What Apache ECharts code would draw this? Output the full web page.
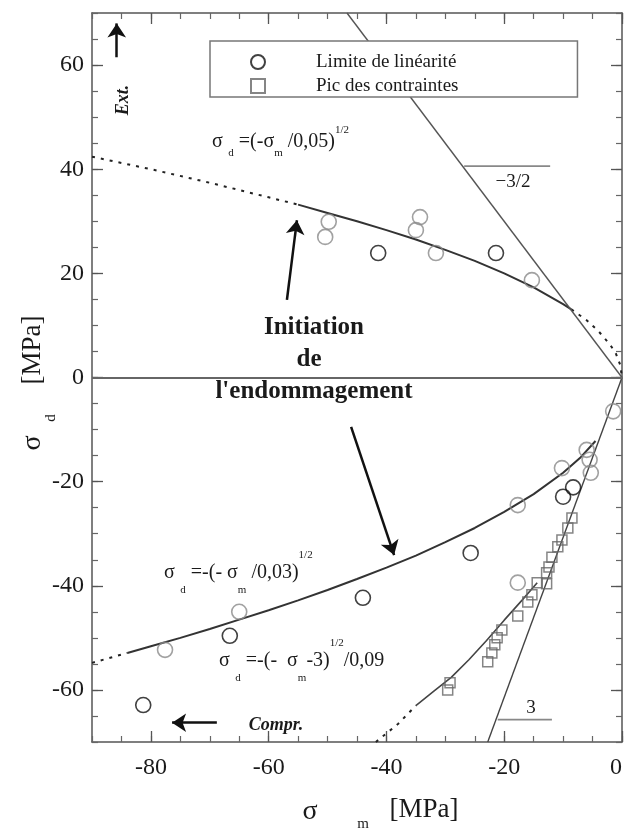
<!DOCTYPE html>
<html>
<head>
<meta charset="utf-8">
<script src="https://cdn.jsdelivr.net/npm/echarts@6/dist/echarts.min.js"></script>
<style>
html, body { margin: 0; padding: 0; background: #fff; }
#main { width: 625px; height: 829px; }
</style>
</head>
<body>
<div id="main"></div>
<script>
// points, [sigma_m, sigma_d] in MPa
var circlesDark = [[-41.4, 23.9], [-21.4, 23.9], [-8.3, -21.1], [-10.0, -22.9], [-25.7, -33.7],
    [-44.0, -42.3], [-66.6, -49.6], [-81.3, -62.9]];
var circlesLight = [[-49.8, 29.9], [-50.4, 27.0], [-34.3, 30.8], [-35.0, 28.3], [-31.6, 23.9],
    [-15.3, 18.7], [-1.5, -6.5], [-6.0, -13.9], [-5.5, -15.8], [-10.2, -17.4], [-5.3, -18.3],
    [-17.7, -24.5], [-17.7, -39.4], [-65.0, -45.0], [-77.6, -52.3]];
var squares = [[-8.5, -27.0], [-9.2, -28.9], [-10.2, -31.2], [-10.9, -32.5], [-11.9, -34.5],
    [-12.4, -36.4], [-12.8, -37.5], [-14.4, -39.4], [-12.8, -39.6], [-15.3, -41.7], [-16.0, -43.1],
    [-17.7, -45.8], [-20.4, -48.5], [-21.2, -50.0], [-21.6, -51.3], [-22.1, -52.9], [-22.8, -54.6],
    [-29.2, -58.6], [-29.6, -60.0]];

// fitted curves as drawn
var upperCurve = [[-55, 33.2], [-50, 31.6], [-45, 30.0], [-40, 28.3], [-35, 26.5], [-30, 24.5],
    [-25, 22.4], [-20, 20.0], [-15, 17.3], [-10, 14.1], [-8.6, 13.1]];
var upperDotLeft = [[-90, 42.4], [-80, 40.0], [-70, 37.4], [-60, 34.6], [-55, 33.2]];
var upperDotRight = [[-8.6, 13.1], [-6, 11.0], [-4, 8.9], [-2, 6.3], [-1, 4.5], [-0.3, 2.4], [0, 0]];
var lowerCurve = [[-84, -52.9], [-80, -51.6], [-75, -50.0], [-70, -48.3], [-65, -46.5], [-60, -44.7],
    [-55, -42.8], [-50, -40.8], [-45, -38.7], [-40, -36.5], [-35, -34.2], [-30, -31.6], [-25, -28.9],
    [-20, -25.8], [-15, -22.4], [-10, -18.3], [-7, -15.3], [-4.5, -12.2]];
var lowerDot = [[-90, -54.8], [-84, -52.9]];
var squareCurve = [[-35, -63.0], [-32, -60.3], [-29, -57.6], [-26, -54.2], [-23, -50.5], [-20, -46.6],
    [-17, -42.8], [-14.4, -39.4]];
var squareDot = [[-41.8, -70], [-38, -66.5], [-35, -63.0]];

// slope lines -3/2 and 3, with their little horizontal markers
var slopeMinus15 = [[-46.7, 70], [0, 0]];
var slope3 = [[-22.8, -70], [0, 0]];
var markMinus15 = [[-26.8, 40.6], [-12.2, 40.6]];
var mark3 = [[-21.1, -65.7], [-11.9, -65.7]];

// annotation arrows [from, to]
var arrows = [
    [[-56.9, 14.9], [-55.2, 30.2]],
    [[-46.0, -9.5], [-38.7, -34.1]],
    [[-85.8, 61.5], [-85.8, 68.0]],
    [[-68.8, -66.3], [-76.4, -66.3]]
];

var xMajor = [-80, -60, -40, -20, 0];
var yMajor = [-60, -40, -20, 0, 20, 40, 60];

var serif = "'Liberation Serif', 'DejaVu Serif', serif";
var ink = '#1a1a1a';

function xAx(pos, major) {
    return {
        type: 'value', min: -90, max: 0, position: pos, interval: 5,
        axisLine: { show: !major, onZero: false, lineStyle: { color: '#555', width: 1.5 } },
        axisTick: major ? { inside: true, length: 11, customValues: xMajor, lineStyle: { color: '#555', width: 1.3 } }
                        : { inside: true, length: 6, lineStyle: { color: '#666', width: 1.2 } },
        axisLabel: (pos === 'bottom' && !major) ? {
            fontSize: 24, fontFamily: serif, color: ink, margin: 14, alignMaxLabel: 'right',
            formatter: function (v) { return v % 20 === 0 ? v : ''; }
        } : { show: false },
        splitLine: { show: false }
    };
}
function yAx(pos, major) {
    return {
        type: 'value', min: -70, max: 70, position: pos, interval: 5,
        axisLine: { show: !major, onZero: false, lineStyle: { color: '#555', width: 1.5 } },
        axisTick: major ? { inside: true, length: 11, customValues: yMajor, lineStyle: { color: '#555', width: 1.3 } }
                        : { inside: true, length: 6, lineStyle: { color: '#666', width: 1.2 } },
        axisLabel: (pos === 'left' && !major) ? {
            fontSize: 24, fontFamily: serif, color: ink, margin: 8,
            formatter: function (v) { return v % 20 === 0 ? v : ''; }
        } : { show: false },
        splitLine: { show: false }
    };
}

function line(data, color, width, type) {
    return {
        type: 'line', data: data, symbol: 'none', silent: true, z: 2,
        lineStyle: { color: color, width: width, type: type || 'solid' }
    };
}

var arrowLines = arrows.map(function (a) {
    return [{ coord: a[0] }, { coord: a[1] }];
});

var myChart = echarts.init(document.getElementById('main'));
var option = {
    backgroundColor: '#fff',
    animation: false,
    grid: { left: 92, right: 3, top: 13, bottom: 87, outerBoundsMode: 'none', containLabel: false },
    xAxis: [xAx('bottom', false), xAx('bottom', true), xAx('top', false), xAx('top', true)],
    yAxis: [yAx('left', false), yAx('left', true), yAx('right', false), yAx('right', true)],
    legend: {
        orient: 'vertical', left: 210, top: 41,
        padding: [11, 119, 1, 40], itemGap: 4, itemWidth: 14, itemHeight: 14,
        backgroundColor: '#fff', borderColor: '#777', borderWidth: 1.5,
        data: ['Limite de linéarité', 'Pic des contraintes'],
        textStyle: { fontSize: 19, fontFamily: serif, color: ink, lineHeight: 20, padding: [0, 0, 0, 46] }
    },
    series: [
        {
            // zero line
            type: 'line', data: [], silent: true,
            markLine: {
                silent: true, symbol: 'none', animation: false,
                label: { show: false },
                lineStyle: { color: '#666', width: 2, type: 'solid' },
                data: [{ yAxis: 0 }]
            }
        },
        line(upperDotLeft, '#222', 2, [3, 6]),
        line(upperCurve, '#333', 2),
        line(upperDotRight, '#222', 2, [3, 6]),
        line(lowerDot, '#222', 2, [3, 6]),
        line(lowerCurve, '#333', 2),
        line(squareDot, '#222', 2, [3, 6]),
        line(squareCurve, '#444', 1.6),
        line(slopeMinus15, '#555', 1.4),
        line(slope3, '#444', 1.4),
        line(markMinus15, '#888', 1.6),
        line(mark3, '#888', 1.6),
        {
            type: 'scatter', name: 'Limite de linéarité', data: circlesDark,
            symbol: 'circle', symbolSize: 15, z: 3,
            itemStyle: { color: 'rgba(255,255,255,0)', borderColor: '#111', borderWidth: 1.6 }
        },
        {
            type: 'scatter', name: 'Limite de linéarité', data: circlesLight,
            symbol: 'circle', symbolSize: 15, z: 3,
            itemStyle: { color: 'rgba(255,255,255,0)', borderColor: '#8a8a8a', borderWidth: 1.6 }
        },
        {
            type: 'scatter', name: 'Pic des contraintes', data: squares,
            symbol: 'rect', symbolSize: 10, z: 3,
            itemStyle: { color: 'rgba(255,255,255,0)', borderColor: '#666', borderWidth: 1.5 }
        },
        {
            // annotation arrows
            type: 'line', data: [], silent: true, itemStyle: { color: '#111' },
            markLine: {
                silent: true, animation: false,
                symbol: ['none', 'arrow'], symbolSize: 14,
                label: { show: false },
                itemStyle: { color: '#111' },
                lineStyle: { color: '#111', width: 2.5, type: 'solid' },
                data: arrowLines
            }
        }
    ],
    graphic: [
        { type: 'text', x: 314, y: 328, style: { text: 'Initiation', font: 'bold 25px ' + serif, fill: ink, textAlign: 'center', textVerticalAlign: 'middle' } },
        { type: 'text', x: 309, y: 360, style: { text: 'de', font: 'bold 25px ' + serif, fill: ink, textAlign: 'center', textVerticalAlign: 'middle' } },
        { type: 'text', x: 314, y: 392, style: { text: "l'endommagement", font: 'bold 25px ' + serif, fill: ink, textAlign: 'center', textVerticalAlign: 'middle' } },
        { type: 'text', x: 123, y: 100, rotation: Math.PI / 2, style: { text: 'Ext.', font: 'italic bold 18px ' + serif, fill: ink, textAlign: 'center', textVerticalAlign: 'middle' } },
        { type: 'text', x: 276, y: 725, style: { text: 'Compr.', font: 'italic bold 18px ' + serif, fill: ink, textAlign: 'center', textVerticalAlign: 'middle' } },
        { type: 'text', x: 513, y: 182, style: { text: '\u22123/2', font: '19px ' + serif, fill: ink, textAlign: 'center', textVerticalAlign: 'middle' } },
        { type: 'text', x: 531, y: 708, style: { text: '3', font: '19px ' + serif, fill: ink, textAlign: 'center', textVerticalAlign: 'middle' } },
        {
            type: 'text', x: 212, y: 142,
            style: {
                text: '{a|\u03c3}{b|  d}{a| =(-\u03c3}{b|m}{a| /0,05)}{c|1/2}',
                textAlign: 'left', textVerticalAlign: 'middle', fill: ink,
                rich: {
                    a: { fontSize: 20, fontFamily: serif, lineHeight: 34, fill: ink },
                    b: { fontSize: 11, fontFamily: serif, lineHeight: 12, verticalAlign: 'bottom', fill: ink },
                    c: { fontSize: 11, fontFamily: serif, lineHeight: 20, verticalAlign: 'top', fill: ink }
                }
            }
        },
        {
            type: 'text', x: 164, y: 573,
            style: {
                text: '{a|\u03c3}{b|  d}{a| =-(- \u03c3}{b|m}{a| /0,03)}{c|1/2}',
                textAlign: 'left', textVerticalAlign: 'middle', fill: ink,
                rich: {
                    a: { fontSize: 20, fontFamily: serif, lineHeight: 46, fill: ink },
                    b: { fontSize: 11, fontFamily: serif, lineHeight: 12, verticalAlign: 'bottom', fill: ink },
                    c: { fontSize: 11, fontFamily: serif, lineHeight: 26, verticalAlign: 'top', fill: ink }
                }
            }
        },
        {
            type: 'text', x: 219, y: 661,
            style: {
                text: '{a|\u03c3}{b|  d}{a| =-(-  \u03c3}{b|m}{a|-3)}{c|1/2}{a|/0,09}',
                textAlign: 'left', textVerticalAlign: 'middle', fill: ink,
                rich: {
                    a: { fontSize: 20, fontFamily: serif, lineHeight: 46, fill: ink },
                    b: { fontSize: 11, fontFamily: serif, lineHeight: 12, verticalAlign: 'bottom', fill: ink },
                    c: { fontSize: 11, fontFamily: serif, lineHeight: 26, verticalAlign: 'top', fill: ink }
                }
            }
        },
        // axis titles
        { type: 'text', x: 310, y: 812, style: { text: '\u03c3', font: '28px ' + serif, fill: ink, textAlign: 'center', textVerticalAlign: 'middle' } },
        { type: 'text', x: 363, y: 824, style: { text: 'm', font: '15px ' + serif, fill: ink, textAlign: 'center', textVerticalAlign: 'middle' } },
        { type: 'text', x: 424, y: 810, style: { text: '[MPa]', font: '27px ' + serif, fill: ink, textAlign: 'center', textVerticalAlign: 'middle' } },
        { type: 'text', x: 33, y: 443, rotation: Math.PI / 2, style: { text: '\u03c3', font: '28px ' + serif, fill: ink, textAlign: 'center', textVerticalAlign: 'middle' } },
        { type: 'text', x: 51, y: 418, rotation: Math.PI / 2, style: { text: 'd', font: '15px ' + serif, fill: ink, textAlign: 'center', textVerticalAlign: 'middle' } },
        { type: 'text', x: 33, y: 350, rotation: Math.PI / 2, style: { text: '[MPa]', font: '27px ' + serif, fill: ink, textAlign: 'center', textVerticalAlign: 'middle' } }
    ]
};
myChart.setOption(option);
</script>
</body>
</html>
